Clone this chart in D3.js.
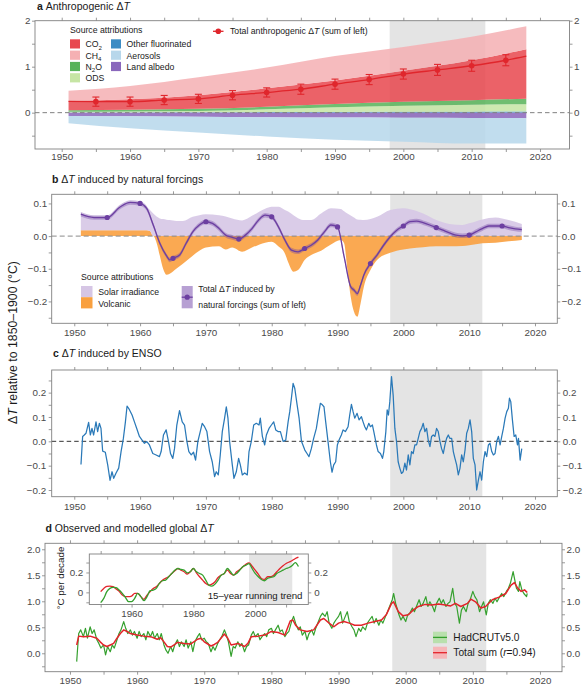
<!DOCTYPE html>
<html><head><meta charset="utf-8">
<script src="https://cdn.jsdelivr.net/npm/d3@7"></script>
<style>body{margin:0;background:#fff}svg text{font-family:"Liberation Sans",Arial,Helvetica,sans-serif}</style>
</head><body><svg id="c" width="583" height="685"></svg>
<script>
// ---------------- DATA ----------------
// Panel a: anthropogenic contributions (°C)
const aYears=[1951,1960,1970,1980,1990,2000,2010,2018];
const aOtherF=[0.005,0.006,0.008,0.012,0.016,0.02,0.022,0.025];
const aODS=[0.015,0.02,0.03,0.06,0.1,0.13,0.15,0.16];
const aN2O=[0.03,0.035,0.045,0.055,0.07,0.085,0.1,0.12];
const aCO2=[0.204,0.229,0.297,0.403,0.514,0.675,0.868,1.075];
const aCH4=[0.224,0.29,0.39,0.45,0.53,0.52,0.51,0.50];
const aLandAlbedo=[-0.07,-0.08,-0.09,-0.1,-0.105,-0.11,-0.115,-0.12];
const aAerosols=[-0.16,-0.26,-0.34,-0.42,-0.485,-0.52,-0.555,-0.55];
const aTotYears=[1951,1955,1960,1965,1970,1975,1980,1985,1990,1995,2000,2005,2010,2015,2018];
const aTotVals=[0.245,0.24,0.24,0.275,0.30,0.38,0.44,0.51,0.62,0.72,0.84,0.93,1.02,1.14,1.23];
const aTotErr=[0,0.1,0.1,0.1,0.1,0.1,0.1,0.11,0.11,0.11,0.11,0.12,0.12,0.12,0];

// Panel b: natural forcings
const bYears=[1951,1953,1955,1956.5,1958,1959.5,1961,1961.5,1962,1962.5,1963,1963.5,1964,1964.5,1965.5,1966.5,1968,1969,1970,1972,1973,1974,1975.5,1977,1979,1980,1981,1982,1982.5,1983.3,1984,1985,1986,1987.5,1989,1990.5,1991,1991.5,1992,1992.5,1993,1993.5,1994,1995,1996,1998,2000,2001,2003,2005,2007,2009,2010,2012,2014,2016,2018];
const bSolar=[0.051,0.039,0.039,0.062,0.084,0.086,0.072,0.064,0.069,0.06,0.054,0.052,0.05,0.049,0.046,0.046,0.059,0.064,0.067,0.064,0.06,0.054,0.048,0.062,0.084,0.09,0.09,0.08,0.075,0.064,0.055,0.049,0.049,0.069,0.085,0.083,0.076,0.069,0.063,0.057,0.051,0.05,0.049,0.052,0.059,0.08,0.085,0.082,0.069,0.049,0.037,0.034,0.039,0.051,0.057,0.049,0.037];
const bVolcanic=[0.018,0.018,0.018,0.018,0.018,0.018,0.018,0.016,0.0,-0.02,-0.06,-0.1,-0.118,-0.115,-0.1,-0.085,-0.06,-0.045,-0.035,-0.031,-0.041,-0.035,-0.048,-0.035,-0.02,-0.017,-0.031,-0.053,-0.08,-0.109,-0.104,-0.073,-0.058,-0.045,-0.026,-0.012,-0.022,-0.104,-0.186,-0.232,-0.247,-0.206,-0.155,-0.104,-0.073,-0.051,-0.041,-0.038,-0.034,-0.031,-0.031,-0.03,-0.028,-0.022,-0.02,-0.016,-0.012];
const bTotYears=[1951,1953,1955,1957,1958.5,1960,1961,1962,1963,1964,1964.5,1965,1966,1967,1968,1969,1970,1971,1972,1973,1974,1975,1976,1977,1978,1979,1980,1981,1982,1983,1984,1985,1986,1987,1988,1989,1990,1991,1992,1992.5,1993,1993.5,1994,1995,1996,1997,1998,1999,2000,2001,2002,2003,2004,2005,2006,2007,2008,2009,2010,2011,2012,2013,2014,2015,2016,2017,2018];
const bTotVals=[0.067,0.057,0.057,0.09,0.103,0.1,0.085,0.034,-0.022,-0.06,-0.073,-0.068,-0.058,-0.022,0.013,0.034,0.044,0.039,0.023,0.003,-0.004,-0.009,0.003,0.023,0.049,0.064,0.059,0.029,-0.012,-0.043,-0.048,-0.038,-0.028,-0.012,0.013,0.034,0.028,-0.063,-0.155,-0.165,-0.176,-0.15,-0.119,-0.084,-0.058,-0.028,-0.002,0.018,0.031,0.044,0.046,0.041,0.034,0.026,0.018,0.01,0.003,0.001,0.003,0.013,0.023,0.031,0.031,0.031,0.026,0.022,0.02];

// Panel c: ENSO
const cYears=[1951.02,1951.27,1951.52,1951.78,1952.18,1952.44,1952.69,1952.94,1953.30,1953.55,1953.81,1954.06,1954.31,1954.72,1955.08,1955.43,1955.74,1955.99,1956.35,1956.75,1957.11,1957.46,1957.77,1958.02,1958.38,1958.78,1959.14,1959.49,1959.90,1960.30,1960.66,1961.02,1961.42,1961.93,1962.44,1962.94,1963.20,1963.55,1963.96,1964.31,1964.62,1964.97,1965.23,1965.58,1965.99,1966.40,1966.75,1967.11,1967.41,1967.77,1968.12,1968.43,1968.78,1969.14,1969.44,1969.80,1970.15,1970.56,1970.96,1971.32,1971.57,1971.88,1972.18,1972.49,1972.84,1973.10,1973.35,1973.60,1974.01,1974.26,1974.62,1974.97,1975.23,1975.53,1975.89,1976.29,1976.55,1976.90,1977.26,1977.66,1978.07,1978.27,1978.58,1978.93,1979.19,1979.59,1979.95,1980.30,1980.61,1980.96,1981.32,1981.73,1982.13,1982.49,1982.74,1982.99,1983.25,1983.50,1983.86,1984.16,1984.52,1985.03,1985.36,1985.66,1986.02,1986.37,1986.78,1987.18,1987.39,1987.69,1987.94,1988.20,1988.55,1988.91,1989.16,1989.42,1989.72,1989.97,1990.23,1990.58,1990.84,1991.19,1991.60,1991.85,1992.11,1992.36,1992.61,1992.97,1993.27,1993.63,1993.88,1994.14,1994.39,1994.75,1995.00,1995.30,1995.51,1995.91,1996.17,1996.52,1996.83,1997.03,1997.34,1997.54,1997.74,1997.94,1998.20,1998.45,1998.71,1998.96,1999.21,1999.47,1999.72,1999.97,2000.23,2000.48,2000.74,2000.99,2001.24,2001.50,2001.75,2002.01,2002.26,2002.51,2002.77,2003.02,2003.27,2003.53,2003.78,2004.04,2004.29,2004.54,2004.80,2005.05,2005.30,2005.56,2005.81,2006.07,2006.32,2006.57,2006.83,2007.08,2007.34,2007.59,2007.84,2008.10,2008.35,2008.60,2008.86,2009.11,2009.37,2009.62,2009.87,2010.13,2010.38,2010.63,2010.89,2011.14,2011.40,2011.65,2011.90,2012.16,2012.41,2012.66,2012.92,2013.17,2013.43,2013.68,2013.93,2014.19,2014.44,2014.70,2014.95,2015.20,2015.46,2015.71,2015.96,2016.12,2016.32,2016.57,2016.83,2017.08,2017.34,2017.49,2017.74,2017.99];
const cVals=[-0.095,0.02,0.026,0.033,0.078,0.026,0.053,0.026,0.08,0.04,0.074,0.053,-0.04,-0.045,-0.097,-0.16,-0.125,-0.152,-0.13,-0.11,-0.042,0.012,0.08,0.145,0.13,0.108,0.08,0.053,0.02,0.005,-0.008,-0.001,-0.015,-0.05,-0.056,-0.063,-0.042,0.026,0.047,0,-0.05,-0.07,-0.03,0.067,0.126,0.08,0.067,0,-0.042,-0.056,-0.045,-0.077,0,0.04,0.074,0.06,0.04,-0.042,-0.084,-0.145,-0.125,-0.138,-0.056,0.04,0.095,0.142,0.095,0,-0.097,-0.152,-0.125,-0.07,-0.097,-0.138,-0.13,-0.138,-0.042,0,0.067,0.074,0.067,0.095,0.02,-0.015,0.026,0.053,0.067,0.08,0.047,0.04,0.04,0,0.005,0.08,0.122,0.177,0.238,0.218,0.15,0.095,0,-0.036,-0.05,-0.063,-0.03,0.012,0.053,0.122,0.156,0.15,0.142,0.08,0,-0.084,-0.127,-0.097,-0.084,-0.015,0.005,0.026,0.047,0.04,0.06,0.108,0.152,0.122,0.095,0.115,0.088,0.101,0.08,0.06,0.047,0.074,0.06,0.067,0.04,-0.015,-0.042,-0.05,-0.07,-0.042,0.04,0.129,0.108,0.163,0.266,0.19,0.053,0,-0.084,-0.111,-0.132,-0.125,-0.09,-0.118,-0.056,-0.097,-0.042,-0.05,-0.015,-0.015,0.012,0.04,0.053,0.074,0.04,0.053,0.005,-0.022,0.02,0.026,0.02,0.053,0.04,0,-0.03,-0.05,-0.015,0.012,0.026,0.012,0.012,-0.042,-0.07,-0.097,-0.138,-0.111,-0.056,-0.084,-0.036,0.033,0.053,0.088,0.04,-0.07,-0.097,-0.2,-0.159,-0.125,-0.159,-0.084,-0.042,-0.063,-0.015,-0.008,-0.042,-0.056,-0.05,0,0.02,-0.015,0.02,0.053,0.095,0.122,0.136,0.177,0.163,0.088,0.02,0.026,-0.015,0.012,-0.077,-0.03];

// Panel d: observed (HadCRUTv5.0) and modelled total
const dObsYears=[1951.0,1951.1,1951.3,1951.6,1952.0,1952.3,1952.6,1953.0,1953.3,1953.6,1954.0,1954.3,1954.6,1955.0,1955.3,1955.6,1956.0,1956.3,1956.6,1957.0,1957.3,1957.6,1958.0,1958.3,1958.6,1959.0,1959.3,1959.6,1960.0,1960.3,1960.6,1961.0,1961.3,1961.6,1962.0,1962.3,1962.6,1963.0,1963.3,1963.6,1964.0,1964.3,1964.6,1965.0,1965.3,1965.6,1966.0,1966.3,1966.6,1967.0,1967.3,1967.6,1968.0,1968.3,1968.6,1969.0,1969.3,1969.6,1970.0,1970.3,1970.6,1971.0,1971.3,1971.6,1972.0,1972.3,1972.6,1973.0,1973.3,1973.6,1974.0,1974.3,1974.6,1975.0,1975.3,1975.6,1976.0,1976.3,1976.6,1977.0,1977.3,1977.6,1978.0,1978.3,1978.6,1979.0,1979.3,1979.6,1980.0,1980.3,1980.6,1981.0,1981.3,1981.6,1982.0,1982.3,1982.6,1983.0,1983.3,1983.6,1984.0,1984.3,1984.6,1985.0,1985.3,1985.6,1986.0,1986.3,1986.6,1987.0,1987.3,1987.6,1988.0,1988.3,1988.6,1989.0,1989.3,1989.6,1990.0,1990.3,1990.6,1991.0,1991.3,1991.6,1992.0,1992.3,1992.6,1993.0,1993.3,1993.6,1994.0,1994.3,1994.6,1995.0,1995.3,1995.6,1996.0,1996.3,1996.6,1997.0,1997.3,1997.6,1998.0,1998.2,1998.5,1998.8,1999.0,1999.3,1999.6,2000.0,2000.3,2000.6,2001.0,2001.3,2001.6,2002.0,2002.3,2002.6,2003.0,2003.3,2003.6,2004.0,2004.3,2004.6,2005.0,2005.3,2005.6,2006.0,2006.3,2006.6,2007.0,2007.3,2007.6,2008.0,2008.3,2008.6,2009.0,2009.3,2009.6,2010.0,2010.3,2010.6,2011.0,2011.3,2011.6,2012.0,2012.3,2012.6,2013.0,2013.3,2013.6,2014.0,2014.3,2014.6,2015.0,2015.3,2015.6,2016.0,2016.2,2016.5,2016.8,2017.0,2017.3,2017.6,2018.0,2018.1];
const dObsVals=[-0.16,0.03,0.38,0.45,0.32,0.48,0.29,0.51,0.38,0.45,0.26,0.19,0.10,0.16,-0.03,0.13,0.03,0.16,0.10,0.26,0.38,0.45,0.61,0.48,0.38,0.45,0.35,0.42,0.29,0.42,0.32,0.38,0.26,0.42,0.32,0.42,0.29,0.38,0.26,0.38,0.16,0.06,0.0,0.13,0.03,0.16,0.26,0.13,0.22,0.13,0.26,0.10,0.22,0.03,0.22,0.32,0.38,0.26,0.29,0.22,0.19,0.03,0.13,0.06,0.19,0.26,0.32,0.45,0.35,0.22,-0.06,0.13,0.10,0.22,0.13,0.19,0.03,0.13,0.16,0.35,0.42,0.32,0.38,0.26,0.32,0.38,0.32,0.45,0.48,0.38,0.45,0.54,0.42,0.45,0.32,0.38,0.42,0.61,0.71,0.58,0.45,0.51,0.35,0.42,0.26,0.38,0.45,0.35,0.48,0.61,0.71,0.77,0.71,0.80,0.58,0.48,0.58,0.64,0.71,0.80,0.58,0.71,0.80,0.61,0.51,0.45,0.32,0.48,0.42,0.51,0.45,0.58,0.64,0.71,0.58,0.67,0.54,0.64,0.58,0.71,0.80,0.90,1.03,1.15,0.96,0.83,0.74,0.64,0.71,0.61,0.74,0.77,0.87,0.80,0.90,1.03,0.90,0.96,1.09,0.90,0.99,0.90,0.80,0.96,1.06,0.96,1.03,0.90,0.96,0.99,1.25,0.96,0.90,0.58,0.83,0.90,0.80,0.96,1.03,1.19,1.09,1.03,0.80,0.90,0.99,0.74,0.96,1.03,0.96,1.06,0.99,1.09,1.15,1.09,1.19,1.25,1.35,1.57,1.44,1.25,1.19,1.38,1.22,1.15,1.09,1.15];
const dSumYears=[1951.0,1951.3,1952,1953,1954,1954.5,1955,1955.5,1956,1956.5,1957,1957.5,1958,1958.5,1959,1960,1961,1962,1963,1963.5,1964,1964.5,1965,1965.5,1966,1967,1968,1969,1969.5,1970,1971,1971.5,1972,1973,1973.5,1974,1975,1976,1976.5,1977,1978,1979,1980,1981,1982,1982.8,1983.2,1983.6,1984.3,1985.3,1986.3,1987.3,1987.8,1988.6,1989.3,1990,1990.8,1991.6,1992.4,1993.4,1994.4,1995.4,1996.4,1997.1,1997.9,1998.2,1998.9,1999.6,2000.4,2001.1,2001.9,2002.9,2003.9,2004.9,2005.9,2006.7,2007.4,2008.2,2009.2,2009.7,2010.4,2011.2,2011.9,2012.9,2013.9,2014.9,2015.7,2016.2,2016.7,2017.2,2017.7,2018.1];
const dSumVals=[0.16,0.33,0.32,0.33,0.29,0.22,0.16,0.13,0.16,0.19,0.29,0.38,0.45,0.42,0.38,0.35,0.33,0.32,0.27,0.30,0.22,0.13,0.12,0.16,0.21,0.19,0.18,0.27,0.29,0.22,0.14,0.17,0.21,0.37,0.29,0.16,0.19,0.13,0.19,0.32,0.33,0.35,0.42,0.40,0.35,0.62,0.64,0.54,0.45,0.42,0.45,0.64,0.67,0.58,0.51,0.58,0.61,0.58,0.54,0.54,0.58,0.61,0.64,0.74,0.96,0.99,0.80,0.72,0.74,0.83,0.90,0.94,0.93,0.95,0.93,0.91,0.96,0.90,0.96,1.04,0.99,0.87,0.90,1.03,1.08,1.15,1.31,1.36,1.25,1.19,1.22,1.17];
// Inset: 15-year running trend (°C per decade)
const insYears=[1950,1951,1952,1953,1954,1955,1956,1957,1958,1959,1960,1961,1962,1963,1964,1965,1966,1967,1968,1969,1970,1971,1972,1973,1974,1975,1976,1977,1978,1979,1980,1981,1982,1983,1984,1985,1986,1987,1988,1989,1990,1991,1992,1993,1994,1995,1996,1997,1998,1999,2000,2001,2002,2003,2004,2005,2006,2007,2008,2009,2010,2011,2012,2013,2014];
const insSum=[0.007,0.04,0.06,0.063,0.057,0.035,0.01,-0.027,-0.043,-0.043,-0.037,-0.01,-0.01,-0.043,-0.07,-0.027,0.007,0.04,0.057,0.09,0.123,0.14,0.157,0.19,0.217,0.24,0.223,0.207,0.183,0.207,0.24,0.197,0.157,0.123,0.09,0.073,0.083,0.107,0.15,0.173,0.19,0.223,0.19,0.173,0.207,0.23,0.257,0.283,0.297,0.263,0.223,0.183,0.14,0.13,0.157,0.157,0.173,0.207,0.24,0.267,0.29,0.305,0.32,0.34,0.355];
const insObs=[-0.103,-0.06,0.007,0.04,0.05,0.047,0.023,-0.01,-0.05,-0.093,-0.093,-0.06,-0.01,-0.043,-0.083,-0.043,0.017,0.023,0.04,0.09,0.117,0.123,0.157,0.19,0.223,0.24,0.23,0.223,0.197,0.207,0.24,0.207,0.19,0.173,0.123,0.073,0.063,0.083,0.123,0.173,0.19,0.24,0.207,0.173,0.19,0.223,0.257,0.273,0.29,0.24,0.19,0.157,0.13,0.117,0.14,0.15,0.157,0.19,0.207,0.223,0.24,0.25,0.27,0.3,0.26];

const xTickYears=d3.range(1950,2021,5);
const xLabelYears=d3.range(1950,2021,10);
const hiatus=[1998,2012];

// ---------------- DRAWING ----------------
const svg=d3.select("#c");
const TICKC="#808080", LABC="#4a4a4a", TXT="#1a1a1a";

function makePanel(c){
  const x=d3.scaleLinear().domain(c.xd).range([c.l,c.r]);
  const y=d3.scaleLinear().domain(c.yd).range([c.b,c.t]);
  const g=svg.append("g");
  g.append("rect").attr("x",x(hiatus[0])).attr("y",c.t).attr("width",x(hiatus[1])-x(hiatus[0])).attr("height",c.b-c.t).attr("fill","#e4e4e4");
  const marks=g.append("g");
  return {c,x,y,g,marks};
}
function styleAx(sel,fs){
  sel.select(".domain").remove();
  sel.selectAll("line").attr("stroke",TICKC).attr("stroke-width",0.8);
  sel.selectAll("text").attr("fill",LABC).attr("font-size",fs||9.8).attr("font-family",'"Liberation Sans",Arial,sans-serif');
}
function drawAxes(p,o){
  const c=p.c, g=p.g;
  const xt=o.xt||xTickYears, xl=o.xl||xLabelYears;
  g.append("g").attr("transform",`translate(0,${c.b})`)
    .call(d3.axisBottom(p.x).tickValues(xt).tickFormat(d=>xl.includes(d)?d:"").tickSize(3).tickPadding(o.xpad||2.5).tickSizeOuter(0)).call(s=>styleAx(s,o.fs));
  g.append("g").attr("transform",`translate(0,${c.t})`)
    .call(d3.axisTop(p.x).tickValues(xt).tickFormat("").tickSize(3).tickSizeOuter(0)).call(s=>styleAx(s,o.fs));
  const lab=d=>o.yl.some(v=>Math.abs(v-d)<1e-9)?o.yf(d):"";
  g.append("g").attr("transform",`translate(${c.l},0)`)
    .call(d3.axisLeft(p.y).tickValues(o.yt).tickFormat(lab).tickSize(3).tickPadding(o.ypad||1.5).tickSizeOuter(0)).call(s=>styleAx(s,o.fs));
  g.append("g").attr("transform",`translate(${c.r},0)`)
    .call(d3.axisRight(p.y).tickValues(o.yt).tickFormat(lab).tickSize(3).tickPadding(o.ypad||1.5).tickSizeOuter(0)).call(s=>styleAx(s,o.fs));
  g.append("rect").attr("x",c.l).attr("y",c.t).attr("width",c.r-c.l).attr("height",c.b-c.t)
    .attr("fill","none").attr("stroke",TICKC).attr("stroke-width",0.9);
}
function zeroLine(p,color,dash){
  p.marks.append("line").attr("x1",p.c.l).attr("x2",p.c.r).attr("y1",p.y(0)).attr("y2",p.y(0))
    .attr("stroke",color).attr("stroke-width",1).attr("stroke-dasharray",dash);
}
function title(x,y,letter,parts){
  const t=svg.append("text").attr("x",x).attr("y",y).attr("font-size",10.5).attr("fill",TXT);
  t.append("tspan").attr("font-weight","bold").text(letter+" ");
  parts.forEach(p=>{const s=t.append("tspan").text(p.t); if(p.i) s.attr("font-style","italic");});
}
function richText(sel,x,y,parts,fs){
  const t=sel.append("text").attr("x",x).attr("y",y).attr("font-size",fs).attr("fill",TXT);
  parts.forEach(p=>{
    const s=t.append("tspan").text(p.t);
    if(p.i) s.attr("font-style","italic");
    if(p.sub) s.attr("font-size",fs*0.7).attr("dy",2.5);
    if(p.up) s.attr("dy",-2.5);
  });
  return t;
}

// ===== Panel a =====
const pa=makePanel({l:35,r:569.5,t:20.7,b:149,xd:[1946.09,2024.32],yd:[-0.79,2.0]});
const aKeys=["otherF","ODS","N2O","CO2","CH4","landAlbedo","aerosols"];
const aSrc={otherF:aOtherF,ODS:aODS,N2O:aN2O,CO2:aCO2,CH4:aCH4,landAlbedo:aLandAlbedo,aerosols:aAerosols};
const aColors={otherF:"#3d8cc4",ODS:"#c6e5a4",N2O:"#58b35a",CO2:"#e8484f",CH4:"#f5b0b3",landAlbedo:"#8a67bc",aerosols:"#b7d7eb"};
const aTable=aYears.map((yr,i)=>{const r={year:yr}; aKeys.forEach(k=>r[k]=aSrc[k][i]); return r;});
const aStack=d3.stack().keys(aKeys).offset(d3.stackOffsetDiverging)(aTable);
const aArea=d3.area().x(d=>pa.x(d.data.year)).y0(d=>pa.y(d[0])).y1(d=>pa.y(d[1])).curve(d3.curveMonotoneX);
pa.marks.selectAll("path.ar").data(aStack).join("path").attr("class","ar")
  .attr("d",aArea).attr("fill",d=>aColors[d.key]).attr("fill-opacity",0.86);
zeroLine(pa,"#808080","4.5,3");
const aRed="#e0262c";
const aTot=aTotYears.map((yr,i)=>({year:yr,v:aTotVals[i],e:aTotErr[i]}));
pa.marks.append("path").datum(aTot).attr("fill","none").attr("stroke",aRed).attr("stroke-width",1.3)
  .attr("d",d3.line().x(d=>pa.x(d.year)).y(d=>pa.y(d.v)).curve(d3.curveMonotoneX));
const aM=aTot.filter(d=>d.e>0);
const eb=pa.marks.selectAll("g.eb").data(aM).join("g").attr("class","eb");
eb.append("line").attr("x1",d=>pa.x(d.year)).attr("x2",d=>pa.x(d.year)).attr("y1",d=>pa.y(d.v-d.e)).attr("y2",d=>pa.y(d.v+d.e)).attr("stroke",aRed).attr("stroke-width",1.1);
[-1,1].forEach(s=>eb.append("line").attr("x1",d=>pa.x(d.year)-3.5).attr("x2",d=>pa.x(d.year)+3.5).attr("y1",d=>pa.y(d.v+s*d.e)).attr("y2",d=>pa.y(d.v+s*d.e)).attr("stroke",aRed).attr("stroke-width",1.1));
eb.append("circle").attr("cx",d=>pa.x(d.year)).attr("cy",d=>pa.y(d.v)).attr("r",2.8).attr("fill",aRed);
drawAxes(pa,{yt:[-0.5,0,0.5,1,1.5,2],yl:[0,1,2],yf:d3.format("d"),xpad:1.5});
title(37,10,"a",[{t:"Anthropogenic Δ"},{t:"T",i:true}]);
// legend a
const la=svg.append("g");
la.append("text").attr("x",70).attr("y",33).attr("font-size",8.7).attr("fill",TXT).text("Source attributions");
const aLeg=[
  {k:"CO2",x:70,row:0,parts:[{t:"CO"},{t:"2",sub:true}]},
  {k:"CH4",x:70,row:1,parts:[{t:"CH"},{t:"4",sub:true}]},
  {k:"N2O",x:70,row:2,parts:[{t:"N"},{t:"2",sub:true},{t:"O",up:true}]},
  {k:"ODS",x:70,row:3,parts:[{t:"ODS"}]},
  {k:"otherF",x:111,row:0,parts:[{t:"Other fluorinated"}]},
  {k:"aerosols",x:111,row:1,parts:[{t:"Aerosols"}]},
  {k:"landAlbedo",x:111,row:2,parts:[{t:"Land albedo"}]}];
aLeg.forEach(d=>{
  const yy=39.3+d.row*11.3;
  la.append("rect").attr("x",d.x).attr("y",yy).attr("width",10).attr("height",9.2).attr("fill",aColors[d.k]);
  richText(la,d.x+15.5,yy+8,d.parts,8.7);
});
la.append("line").attr("x1",213).attr("x2",223.5).attr("y1",31.3).attr("y2",31.3).attr("stroke",aRed).attr("stroke-width",1.3);
la.append("circle").attr("cx",218.3).attr("cy",31.3).attr("r",2.8).attr("fill",aRed);
richText(la,230,34.2,[{t:"Total anthropogenic Δ"},{t:"T",i:true},{t:" (sum of left)"}],8.7);

// ===== Panel b =====
const pb=makePanel({l:51.7,r:557.3,t:194.3,b:323.3,xd:[1946.57,2023.39],yd:[-0.267,0.128]});
const bTable=bYears.map((yr,i)=>({year:yr,volcanic:bVolcanic[i],solar:bSolar[i]}));
const bStack=d3.stack().keys(["volcanic","solar"]).offset(d3.stackOffsetDiverging)(bTable);
const bColors={solar:"#d6c6e5",volcanic:"#f9a03f"};
const bArea=d3.area().x(d=>pb.x(d.data.year)).y0(d=>pb.y(d[0])).y1(d=>pb.y(d[1])).curve(d3.curveMonotoneX);
pb.marks.selectAll("path.ar").data(bStack).join("path").attr("class","ar").attr("d",bArea)
  .attr("fill",d=>bColors[d.key]).attr("fill-opacity",0.9);
zeroLine(pb,"#8a8a8a","5,3");
const bPurple="#6c3fa1";
const bTot=bTotYears.map((yr,i)=>({year:yr,v:bTotVals[i]}));
pb.marks.append("path").datum(bTot).attr("fill",bPurple).attr("fill-opacity",0.35)
  .attr("d",d3.area().x(d=>pb.x(d.year)).y0(d=>pb.y(d.v-0.007)).y1(d=>pb.y(d.v+0.007)).curve(d3.curveMonotoneX));
pb.marks.append("path").datum(bTot).attr("fill","none").attr("stroke",bPurple).attr("stroke-width",1.3)
  .attr("d",d3.line().x(d=>pb.x(d.year)).y(d=>pb.y(d.v)).curve(d3.curveMonotoneX));
pb.marks.selectAll("circle.m").data(bTot.filter(d=>d.year%5===0 && d.year>=1955 && d.year<=2015)).join("circle").attr("class","m")
  .attr("cx",d=>pb.x(d.year)).attr("cy",d=>pb.y(d.v)).attr("r",2.6).attr("fill",bPurple);
drawAxes(pb,{yt:[-0.25,-0.2,-0.15,-0.1,-0.05,0,0.05,0.1],yl:[-0.2,-0.1,0,0.1],yf:d3.format(".1f")});
title(52,183,"b",[{t:"Δ"},{t:"T",i:true},{t:" induced by natural forcings"}]);
const lb=svg.append("g");
lb.append("text").attr("x",81).attr("y",280).attr("font-size",8.7).attr("fill",TXT).text("Source attributions");
lb.append("rect").attr("x",81).attr("y",286).attr("width",11.5).attr("height",11.2).attr("fill",bColors.solar);
lb.append("rect").attr("x",81).attr("y",297.2).attr("width",11.5).attr("height",11.2).attr("fill",bColors.volcanic);
lb.append("text").attr("x",98.3).attr("y",295).attr("font-size",8.7).attr("fill",TXT).text("Solar irradiance");
lb.append("text").attr("x",98.3).attr("y",307.3).attr("font-size",8.7).attr("fill",TXT).text("Volcanic");
lb.append("rect").attr("x",181.7).attr("y",286).attr("width",11).attr("height",22.3).attr("fill","#b7a0d3");
lb.append("line").attr("x1",181.7).attr("x2",192.7).attr("y1",297.2).attr("y2",297.2).attr("stroke",bPurple).attr("stroke-width",1.3);
lb.append("circle").attr("cx",187.2).attr("cy",297.2).attr("r",2.6).attr("fill",bPurple);
richText(lb,198.3,292.3,[{t:"Total Δ"},{t:"T",i:true},{t:" induced by"}],8.7);
richText(lb,198.3,308.3,[{t:"natural forcings (sum of left)"}],8.7);

// ===== Panel c =====
const pc=makePanel({l:51.7,r:557.3,t:370,b:496.7,xd:[1946.57,2023.39],yd:[-0.2275,0.293]});
zeroLine(pc,"#333","4.5,3");
const cData=cYears.map((yr,i)=>({year:yr,v:cVals[i]}));
pc.marks.append("path").datum(cData).attr("fill","none").attr("stroke","#2a79b8").attr("stroke-width",1.25).attr("stroke-linejoin","round")
  .attr("d",d3.line().x(d=>pc.x(d.year)).y(d=>pc.y(d.v)));
drawAxes(pc,{yt:[-0.2,-0.15,-0.1,-0.05,0,0.05,0.1,0.15,0.2,0.25],yl:[-0.2,-0.1,0,0.1,0.2],yf:d3.format(".1f"),xpad:3.5,ypad:2.5});
title(53,357,"c",[{t:"Δ"},{t:"T",i:true},{t:" induced by ENSO"}]);

// ===== Panel d =====
const pd=makePanel({l:45,r:562,t:543.3,b:671.7,xd:[1946.28,2023.28],yd:[-0.354,2.115]});
const dGreen="#35a02e", dRed="#e3242b";
const dObs=dObsYears.map((yr,i)=>({year:yr,v:dObsVals[i]}));
const dSum=dSumYears.map((yr,i)=>({year:yr,v:dSumVals[i]}));
pd.marks.append("path").datum(dObs).attr("fill","none").attr("stroke",dGreen).attr("stroke-width",1.2).attr("stroke-linejoin","round")
  .attr("d",d3.line().x(d=>pd.x(d.year)).y(d=>pd.y(d.v)));
pd.marks.append("path").datum(dSum).attr("fill","none").attr("stroke",dRed).attr("stroke-width",1.5).attr("stroke-linejoin","round")
  .attr("d",d3.line().x(d=>pd.x(d.year)).y(d=>pd.y(d.v)));
drawAxes(pd,{yt:[-0.25,0,0.25,0.5,0.75,1,1.25,1.5,1.75,2],yl:[0,0.5,1,1.5,2],yf:d3.format(".1f")});
title(45.5,531.5,"d",[{t:"Observed and modelled global Δ"},{t:"T",i:true}]);
// legend d
const ld=svg.append("g");
ld.append("rect").attr("x",433).attr("y",631.7).attr("width",14).attr("height",11.5).attr("fill","#b9e0ad");
ld.append("line").attr("x1",433).attr("x2",447).attr("y1",637.4).attr("y2",637.4).attr("stroke",dGreen).attr("stroke-width",1.3);
ld.append("rect").attr("x",433).attr("y",646.7).attr("width",14).attr("height",12).attr("fill","#f6b6b8");
ld.append("line").attr("x1",433).attr("x2",447).attr("y1",652.7).attr("y2",652.7).attr("stroke",dRed).attr("stroke-width",1.3);
ld.append("text").attr("x",453.3).attr("y",641.3).attr("font-size",10.2).attr("fill",TXT).text("HadCRUTv5.0");
richText(ld,453.3,656.2,[{t:"Total sum ("},{t:"r",i:true},{t:"=0.94)"}],10.2);
// inset
const ic={l:89.3,r:308.3,t:554,b:604.5};
svg.append("rect").attr("x",ic.l).attr("y",ic.t).attr("width",ic.r-ic.l).attr("height",ic.b-ic.t).attr("fill","#fff");
const pi=makePanel({...ic,xd:[1946.32,2017.19],yd:[-0.122,0.3858]});
const iObs=insYears.map((yr,i)=>({year:yr,v:insObs[i]}));
const iSum=insYears.map((yr,i)=>({year:yr,v:insSum[i]}));
const iLine=d3.line().x(d=>pi.x(d.year)).y(d=>pi.y(d.v)).curve(d3.curveMonotoneX);
pi.marks.append("path").datum(iSum).attr("fill","none").attr("stroke",dRed).attr("stroke-width",1.3).attr("d",iLine);
pi.marks.append("path").datum(iObs).attr("fill","none").attr("stroke",dGreen).attr("stroke-width",1.3).attr("d",iLine);
drawAxes(pi,{xt:d3.range(1950,2011,10),xl:[1960,1980,2000],yt:[-0.1,0,0.1,0.2,0.3],yl:[0,0.2],yf:d=>d===0?"0":d3.format(".1f")(d),xpad:2.5,ypad:3,fs:9.8});
svg.append("text").attr("x",302.5).attr("y",599).attr("text-anchor","end").attr("font-size",9.7).attr("fill",TXT).text("15–year running trend");
svg.append("text").attr("transform","translate(63.5,578) rotate(-90)").attr("text-anchor","middle").attr("font-size",9.8).attr("fill",TXT).text("°C per decade");

// global y label
richText(svg.append("g").attr("transform","translate(16.5,342.5) rotate(-90)"),0,0,[{t:"Δ"},{t:"T",i:true},{t:" relative to 1850–1900 (°C)"}],12.3).attr("text-anchor","middle");
</script></body></html>
